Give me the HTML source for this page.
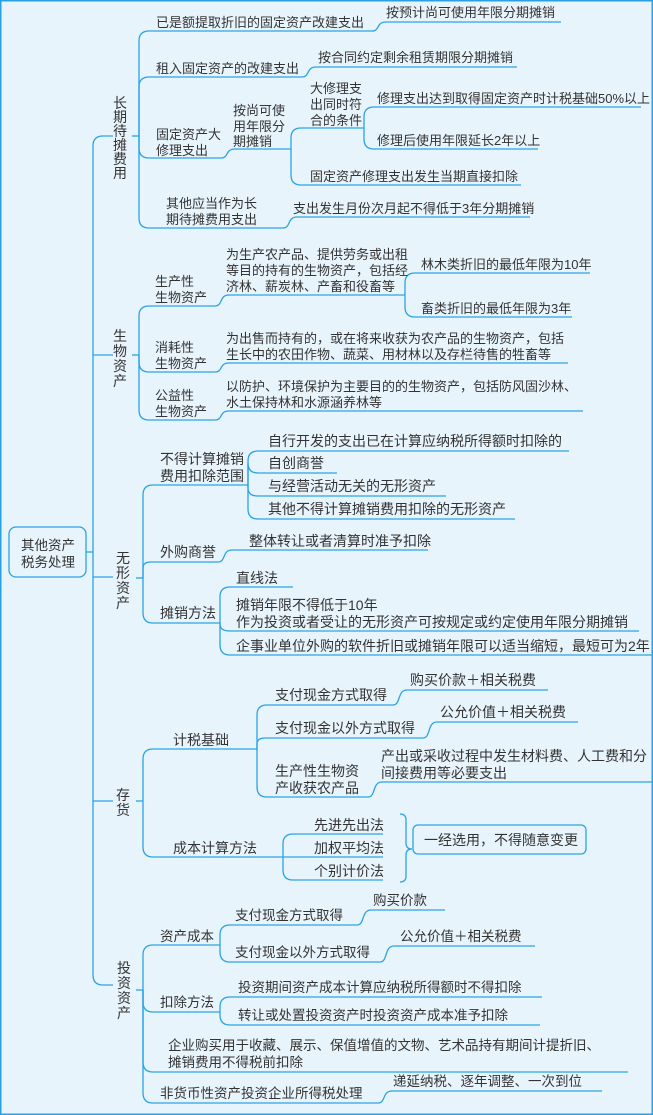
<!DOCTYPE html>
<html><head><meta charset="utf-8"><style>
html,body{margin:0;padding:0;background:#e8f4fc;}
svg{display:block;}
text{font-family:"Liberation Sans","Noto Sans CJK SC",sans-serif;fill:#333;}
</style></head><body>
<svg width="653" height="1115" viewBox="0 0 653 1115" xmlns="http://www.w3.org/2000/svg">
<rect x="0.75" y="0.75" width="651.5" height="1113.5" fill="#e8f4fc" stroke="#2aa0e2" stroke-width="1.5"/>
<g fill="none" stroke="#2aa3e3" stroke-width="1.3">
<!-- root -->
<rect x="9" y="527" width="77" height="50" rx="7"/>
<path d="M86 552 H93"/>
<path d="M113 136 H103 Q93 136 93 146 V975 Q93 985 103 985 H113"/>
<path d="M93 355 H113 M93 577 H113 M93 801 H113"/>
<!-- group1 -->
<path d="M132 136 H139"/>
<path d="M139 136 V41 Q139 31 149 31 H372"/>
<path d="M139 136 V87 Q139 77 149 77 H302"/>
<path d="M139 136 V148 Q139 158 149 158 H221"/>
<path d="M139 136 V218 Q139 228 149 228 H283"/>
<path d="M372 31 C380 31 376 22 386 22 H561"/>
<path d="M302 77 C310 77 306 67 316 67 H517"/>
<path d="M221 158 C229 158 225 149 235 149 H291"/>
<path d="M291 149 V138 Q291 128 301 128 H364"/>
<path d="M291 149 V175 Q291 185 301 185 H521"/>
<path d="M364 128 V117 Q364 107 374 107 H641"/>
<path d="M364 128 V139 Q364 149 374 149 H538"/>
<path d="M283 228 C291 228 287 217 297 217 H530"/>
<!-- group2 -->
<path d="M132 355 H139"/>
<path d="M139 355 V316 Q139 306 149 306 H215"/>
<path d="M139 355 V362 Q139 372 149 372 H215"/>
<path d="M139 355 V410 Q139 420 149 420 H215"/>
<path d="M215 306 C223 306 219 295 229 295 H405"/>
<path d="M405 295 V283 Q405 273 415 273 H590"/>
<path d="M405 295 V307 Q405 317 415 317 H572"/>
<path d="M215 372 C223 372 219 363 229 363 H568"/>
<path d="M215 420 C223 420 219 411 229 411 H583"/>
<!-- group3 -->
<path d="M136 578 H143"/>
<path d="M143 578 V495 Q143 485 153 485 H248"/>
<path d="M143 578 V568 Q143 562 151 562 H218"/>
<path d="M143 578 V613 Q143 623 153 623 H220"/>
<path d="M248 485 V461 Q248 451 258 451 H569"/>
<path d="M248 485 V463 Q248 473 258 473 H337"/>
<path d="M248 485 V488 Q248 496 258 496 H446"/>
<path d="M248 485 V509 Q248 519 258 519 H515"/>
<path d="M218 562 C226 562 222 550 232 550 H428"/>
<path d="M220 623 V597 Q220 587 230 587 H293"/>
<path d="M220 623 V624 Q220 631 230 631 H639"/>
<path d="M220 623 V645 Q220 655 230 655 H653"/>
<!-- group4 -->
<path d="M136 801 H143"/>
<path d="M143 801 V759 Q143 749 153 749 H257"/>
<path d="M143 801 V847 Q143 857 153 857 H283"/>
<path d="M257 749 V715 Q257 705 267 705 H393"/>
<path d="M257 749 V744 Q257 738 265 738 H423"/>
<path d="M257 749 V787 Q257 797 267 797 H368"/>
<path d="M393 705 C401 705 397 690 407 690 H548"/>
<path d="M423 738 C431 738 427 722 437 722 H578"/>
<path d="M368 797 C376 797 372 782 382 782 H653"/>
<path d="M283 857 V844 Q283 834 293 834 H383"/>
<path d="M283 857 H383"/>
<path d="M283 857 V870 Q283 880 293 880 H383"/>
<path d="M400 814 Q406 814 406 820 V843 Q406 849 412 849 Q406 849 406 855 V876 Q406 882 400 882"/>
<rect x="413" y="825" width="173" height="29" rx="5"/>
<!-- group5 -->
<path d="M136 990 H143"/>
<path d="M143 990 V955 Q143 945 153 945 H220"/>
<path d="M143 990 V1002 Q143 1012 153 1012 H220"/>
<path d="M143 990 V1062 Q143 1072 153 1072 H628"/>
<path d="M143 990 V1093 Q143 1103 153 1103 H378"/>
<path d="M220 945 V935 Q220 925 230 925 H357"/>
<path d="M220 945 V952 Q220 962 230 962 H380"/>
<path d="M357 925 C365 925 361 910 371 910 H445"/>
<path d="M380 962 C388 962 384 946 394 946 H535"/>
<path d="M220 1012 V1007 Q220 997 230 997 H542"/>
<path d="M220 1012 V1015 Q220 1025 230 1025 H540"/>
<path d="M378 1103 C386 1103 382 1091 392 1091 H602"/>
</g>

<g font-size="13.5">
<text x="48" y="550" text-anchor="middle">其他资产</text>
<text x="48" y="567" text-anchor="middle">税务处理</text>
</g>

<!-- level 1 vertical labels -->
<g font-size="14" text-anchor="middle">
<text x="120"><tspan x="120" y="108">长</tspan><tspan x="120" y="122">期</tspan><tspan x="120" y="136">待</tspan><tspan x="120" y="150">摊</tspan><tspan x="120" y="164">费</tspan><tspan x="120" y="178">用</tspan></text>
<text x="120"><tspan x="120" y="341">生</tspan><tspan x="120" y="356">物</tspan><tspan x="120" y="371">资</tspan><tspan x="120" y="386">产</tspan></text>
<text x="123"><tspan x="123" y="563">无</tspan><tspan x="123" y="578">形</tspan><tspan x="123" y="593">资</tspan><tspan x="123" y="608">产</tspan></text>
<text x="123"><tspan x="123" y="800">存</tspan><tspan x="123" y="815">货</tspan></text>
<text x="124"><tspan x="124" y="973">投</tspan><tspan x="124" y="988">资</tspan><tspan x="124" y="1003">资</tspan><tspan x="124" y="1018">产</tspan></text>
</g>

<!-- group1 text -->
<g font-size="13">
<text x="156" y="27">已是额提取折旧的固定资产改建支出</text>
<text x="386" y="17">按预计尚可使用年限分期摊销</text>
<text x="156" y="73">租入固定资产的改建支出</text>
<text x="318" y="62">按合同约定剩余租赁期限分期摊销</text>
<text x="156" y="139">固定资产大</text>
<text x="156" y="155">修理支出</text>
<text x="233" y="115">按尚可使</text>
<text x="233" y="131">用年限分</text>
<text x="233" y="146">期摊销</text>
<text x="310" y="93">大修理支</text>
<text x="310" y="109">出同时符</text>
<text x="310" y="125">合的条件</text>
<text x="377" y="103">修理支出达到取得固定资产时计税基础50%以上</text>
<text x="377" y="145">修理后使用年限延长2年以上</text>
<text x="310" y="181">固定资产修理支出发生当期直接扣除</text>
<text x="166" y="208">其他应当作为长</text>
<text x="166" y="224">期待摊费用支出</text>
<text x="293" y="213">支出发生月份次月起不得低于3年分期摊销</text>
</g>

<!-- group2 text -->
<g font-size="13">
<text x="155" y="286">生产性</text>
<text x="155" y="302">生物资产</text>
<text x="226" y="259">为生产农产品、提供劳务或出租</text>
<text x="226" y="275">等目的持有的生物资产，包括经</text>
<text x="226" y="291">济林、薪炭林、产畜和役畜等</text>
<text x="421" y="269">林木类折旧的最低年限为10年</text>
<text x="421" y="313">畜类折旧的最低年限为3年</text>
<text x="155" y="352">消耗性</text>
<text x="155" y="368">生物资产</text>
<text x="226" y="343">为出售而持有的，或在将来收获为农产品的生物资产，包括</text>
<text x="226" y="359">生长中的农田作物、蔬菜、用材林以及存栏待售的牲畜等</text>
<text x="155" y="400">公益性</text>
<text x="155" y="416">生物资产</text>
<text x="226" y="391">以防护、环境保护为主要目的的生物资产，包括防风固沙林、</text>
<text x="226" y="407">水土保持林和水源涵养林等</text>
</g>

<!-- group3 text -->
<g font-size="14">
<text x="160" y="464">不得计算摊销</text>
<text x="160" y="481">费用扣除范围</text>
<text x="268" y="446">自行开发的支出已在计算应纳税所得额时扣除的</text>
<text x="268" y="468">自创商誉</text>
<text x="268" y="491">与经营活动无关的无形资产</text>
<text x="268" y="514">其他不得计算摊销费用扣除的无形资产</text>
<text x="160" y="557">外购商誉</text>
<text x="249" y="546">整体转让或者清算时准予扣除</text>
<text x="160" y="618">摊销方法</text>
<text x="236" y="583">直线法</text>
<text x="236" y="610">摊销年限不得低于10年</text>
<text x="236" y="627">作为投资或者受让的无形资产可按规定或约定使用年限分期摊销</text>
<text x="236" y="651">企事业单位外购的软件折旧或摊销年限可以适当缩短，最短可为2年</text>
</g>

<!-- group4 text -->
<g font-size="14">
<text x="173" y="745">计税基础</text>
<text x="275" y="700">支付现金方式取得</text>
<text x="410" y="685">购买价款＋相关税费</text>
<text x="275" y="733">支付现金以外方式取得</text>
<text x="440" y="717">公允价值＋相关税费</text>
<text x="275" y="776">生产性生物资</text>
<text x="275" y="793">产收获农产品</text>
<text x="381" y="761">产出或采收过程中发生材料费、人工费和分</text>
<text x="381" y="778">间接费用等必要支出</text>
<text x="173" y="853">成本计算方法</text>
<text x="314" y="830">先进先出法</text>
<text x="314" y="853">加权平均法</text>
<text x="314" y="876">个别计价法</text>
<text x="424" y="845">一经选用，不得随意变更</text>
</g>

<!-- group5 text -->
<g font-size="13.5">
<text x="160" y="941">资产成本</text>
<text x="235" y="920">支付现金方式取得</text>
<text x="373" y="905">购买价款</text>
<text x="235" y="957">支付现金以外方式取得</text>
<text x="400" y="941">公允价值＋相关税费</text>
<text x="160" y="1007">扣除方法</text>
<text x="238" y="992">投资期间资产成本计算应纳税所得额时不得扣除</text>
<text x="238" y="1020">转让或处置投资资产时投资资产成本准予扣除</text>
<text x="168" y="1050">企业购买用于收藏、展示、保值增值的文物、艺术品持有期间计提折旧、</text>
<text x="168" y="1067">摊销费用不得税前扣除</text>
<text x="160" y="1098">非货币性资产投资企业所得税处理</text>
<text x="393" y="1086">递延纳税、逐年调整、一次到位</text>
</g>
</svg>
</body></html>
